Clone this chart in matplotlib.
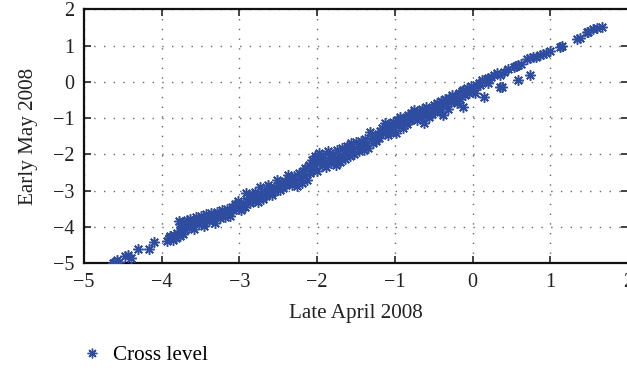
import matplotlib
matplotlib.use("Agg")
import matplotlib.pyplot as plt
from matplotlib.lines import Line2D

# Late April 2008 (x) vs Early May 2008 (y)
late_april = [
    -4.63, -4.60, -4.57, -4.55, -4.47, -4.43, -4.40, -4.30, -4.16, -4.10,
    -3.93, -3.91, -3.89, -3.86, -3.84, -3.82, -3.80, -3.77, -3.75, -3.73,
    -3.78, -3.76, -3.75, -3.73, -3.71, -3.70, -3.68, -3.66, -3.65, -3.63,
    -3.61, -3.60, -3.58, -3.56, -3.54, -3.52, -3.50, -3.48, -3.46, -3.45,
    -3.43, -3.41, -3.39, -3.37, -3.35, -3.33, -3.31, -3.29, -3.27, -3.25,
    -3.22, -3.20, -3.18, -3.16, -3.14, -3.12, -3.10, -3.08, -3.06, -3.04,
    -3.02, -3.00, -2.98, -2.96, -2.93, -2.91, -2.90,
    -2.88, -2.86, -2.84, -2.82, -2.80, -2.78, -2.76, -2.73, -2.72, -2.70,
    -2.68, -2.66, -2.63, -2.62, -2.60, -2.58, -2.56, -2.54, -2.52, -2.50,
    -2.48, -2.46, -2.44, -2.42, -2.40, -2.37, -2.36, -2.34, -2.32, -2.30,
    -2.28, -2.26, -2.24, -2.22, -2.20, -2.18, -2.16, -2.15, -2.13,
    -2.11, -2.09, -2.07, -2.05, -2.03, -2.01, -2.00, -1.98, -1.96, -1.94,
    -1.92, -1.90, -1.88, -1.86, -1.84, -1.82, -1.80, -1.78, -1.76, -1.74,
    -1.72, -1.70, -1.68, -1.66, -1.64, -1.62, -1.60, -1.58, -1.56, -1.54,
    -1.52, -1.50, -1.48, -1.46, -1.44, -1.42, -1.40, -1.38, -1.36, -1.34,
    -1.32, -1.30, -1.28, -1.26, -1.24, -1.22, -1.20, -1.19,
    -1.17, -1.15, -1.13, -1.11, -1.09, -1.07, -1.05, -1.03, -1.01, -0.99,
    -0.97, -0.95, -0.93, -0.91, -0.89, -0.87, -0.85, -0.83, -0.81, -0.79,
    -0.77, -0.75, -0.73, -0.71, -0.69, -0.67, -0.65, -0.63, -0.62, -0.60,
    -0.58, -0.56, -0.54, -0.52, -0.50, -0.48, -0.46, -0.44, -0.42, -0.40,
    -0.38, -0.38, -0.36, -0.34, -0.32, -0.30, -0.28, -0.27, -0.25, -0.22,
    -0.20, -0.18, -0.16, -0.14, -0.12, -0.12, -0.10, -0.07, -0.05, -0.02,
    0.00, 0.03, 0.05, 0.08, 0.12, 0.15, 0.18, 0.20, 0.20, 0.24,
    0.28, 0.32, 0.35, 0.35, 0.40, 0.10, 0.38,
    0.46, 0.53, 0.56, 0.59, 0.59, 0.62, 0.74, 0.70, 0.74, 0.78,
    0.82, 0.87, 0.91, 0.95, 0.99, 1.15, 1.13, 1.34, 1.38, 1.47,
    1.55, 1.60, 1.66, 1.49,
]
early_may = [
    -4.99, -4.96, -4.93, -4.97, -4.82, -4.79, -4.86, -4.62, -4.60, -4.41,
    -4.40, -4.32, -4.25, -4.36, -4.22, -4.30, -4.18, -4.26, -4.12, -4.20,
    -3.84, -3.93, -4.02, -3.86, -3.96, -4.08, -3.82, -3.90, -4.00, -3.78,
    -3.87, -3.97, -4.05, -3.74, -3.83, -3.93, -3.70, -3.80, -3.89, -3.98,
    -3.66, -3.76, -3.85, -3.62, -3.72, -3.81, -3.90, -3.58, -3.68, -3.77,
    -3.55, -3.64, -3.73, -3.50, -3.60, -3.69, -3.45, -3.55, -3.38, -3.50,
    -3.30, -3.42, -3.55, -3.35, -3.46, -3.08, -3.28,
    -3.20, -3.35, -3.12, -3.27, -3.05, -3.20, -3.32, -2.90, -3.10, -3.24,
    -3.02, -3.16, -2.85, -3.08, -2.96, -3.12, -2.90, -3.02, -2.71, -2.86,
    -2.98, -2.80, -2.92, -2.74, -2.86, -2.57, -2.78, -2.66, -2.84, -2.60,
    -2.74, -2.88, -2.52, -2.66, -2.78, -2.46, -2.39, -2.60, -2.72,
    -2.30, -2.52, -2.15, -2.38, -2.05, -2.20, -2.45, -1.95, -2.12, -2.30,
    -2.02, -2.20, -2.36, -1.92, -2.08, -2.25, -1.98, -2.14, -2.30, -1.88,
    -2.04, -2.20, -1.82, -1.96, -2.12, -1.76, -1.90, -2.05, -1.70, -1.84,
    -1.98, -1.66, -1.78, -1.92, -1.62, -1.74, -1.88, -1.58, -1.70, -1.82,
    -1.38, -1.55, -1.68, -1.50, -1.62, -1.44, -1.56, -1.36,
    -1.28, -1.42, -1.14, -1.30, -1.46, -1.20, -1.36, -1.10, -1.26, -1.40,
    -1.04, -1.18, -0.96, -1.12, -1.28, -1.00, -1.15, -0.92, -1.06, -0.86,
    -1.00, -0.78, -0.92, -1.06, -0.84, -0.98, -0.76, -1.14, -0.90, -0.70,
    -0.84, -0.96, -0.74, -0.88, -0.64, -0.78, -0.58, -0.70, -0.84, -0.54,
    -0.66, -0.91, -0.48, -0.60, -0.74, -0.44, -0.56, -0.36, -0.50, -0.40,
    -0.59, -0.30, -0.46, -0.26, -0.22, -0.68, -0.36, -0.18, -0.30, -0.12,
    -0.24, -0.31, -0.09, -0.02, 0.04, -0.41, 0.08, -0.04, 0.10, 0.14,
    0.20, 0.24, 0.19, -0.15, 0.28, -0.09, -0.13,
    0.36, 0.42, 0.45, 0.47, 0.05, 0.50, 0.19, 0.62, 0.65, 0.70,
    0.68, 0.74, 0.77, 0.79, 0.84, 1.00, 0.97, 1.19, 1.20, 1.37,
    1.45, 1.48, 1.53, 1.37,
]
x_ticks = [-5, -4, -3, -2, -1, 0, 1, 2]
y_ticks = [-5, -4, -3, -2, -1, 0, 1, 2]
x_label = "Late April 2008"
y_label = "Early May 2008"
series_name = "Cross level"

blue = "#2f4da0"
plt.rcParams['font.family'] = ['Liberation Serif', 'DejaVu Serif']
plt.rcParams['axes.unicode_minus'] = True

fig = plt.figure(figsize=(6.27, 3.75), dpi=100)
ax = fig.add_axes([0.134, 0.2987, 1.0016 - 0.134, 0.9747 - 0.2987])

ax.plot(late_april, early_may, linestyle='none', marker=(8, 2, 0),
        markersize=7.5, markeredgewidth=1.1, color=blue, zorder=3)

ax.set_xlim(-5, 2)
ax.set_ylim(-5, 2)
ax.set_xticks(x_ticks)
ax.set_yticks(y_ticks)
ax.set_xticklabels([f"\u2212{abs(v)}" if v < 0 else str(v) for v in x_ticks])
ax.set_yticklabels([f"\u2212{abs(v)}" if v < 0 else str(v) for v in y_ticks])
ax.tick_params(direction='in', length=5, width=1.2, top=True, right=True,
               labelsize=14.5, colors='#222222', pad=7)
for s in ax.spines.values():
    s.set_linewidth(1.6)
    s.set_color('#111111')
ax.grid(True, linestyle=(0, (1, 6)), linewidth=1.0, color='#666666')
ax.set_axisbelow(True)

ax.set_xlabel(x_label, fontsize=15.2, color='#222222', labelpad=9)
ax.set_ylabel(y_label, fontsize=15.2, color='#222222', labelpad=11)

handle = Line2D([], [], linestyle='none', marker=(8, 2, 0), markersize=7,
                markeredgewidth=1.0, color=blue)
fig.legend([handle], [series_name], loc='center left',
           bbox_to_anchor=(0.118, 0.053), frameon=False, fontsize=15.2,
           handlelength=0.9, handletextpad=0.55, borderaxespad=0)

fig.savefig("out.png", dpi=100)
